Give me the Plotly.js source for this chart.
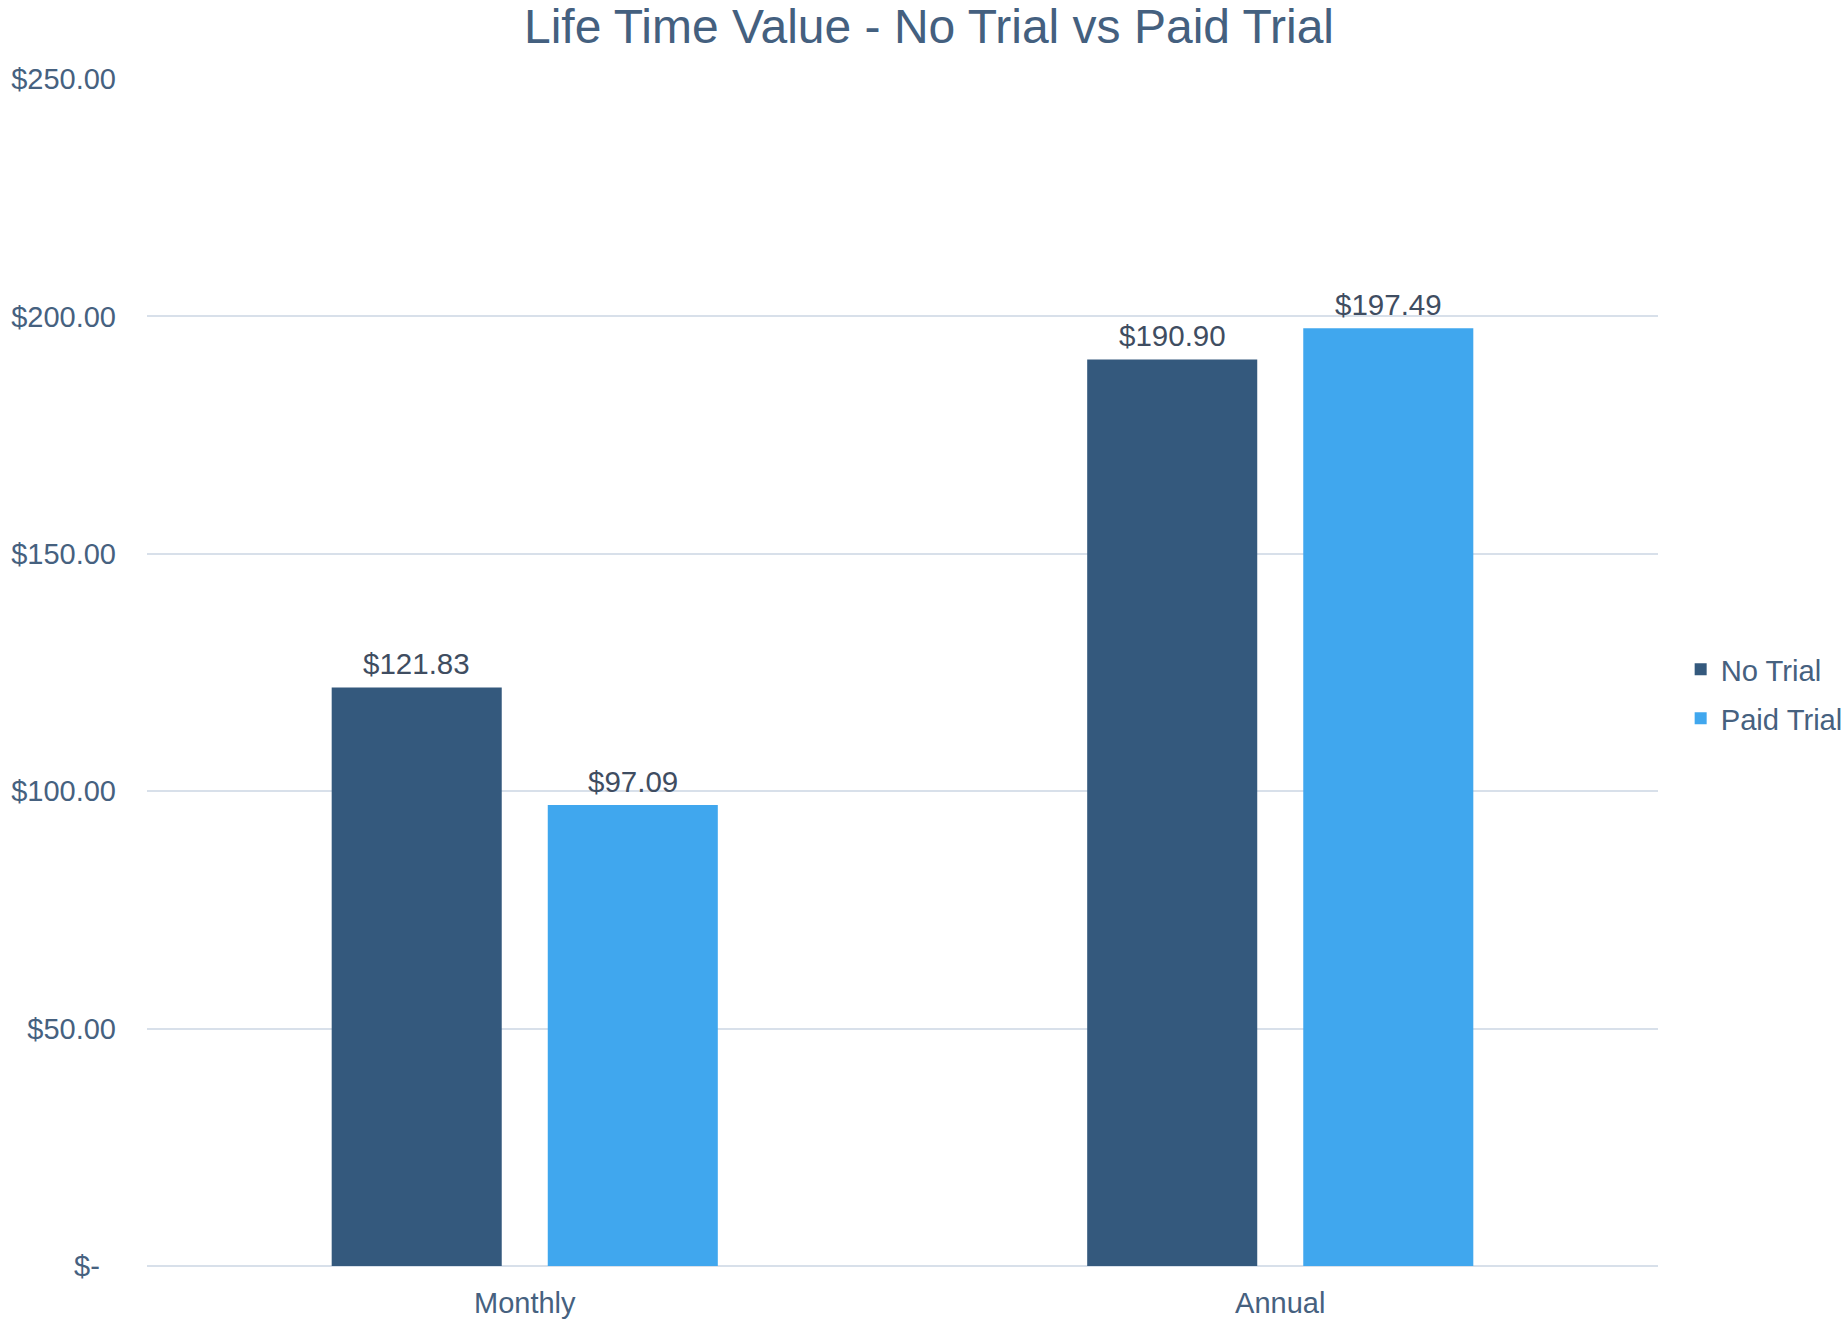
<!DOCTYPE html>
<html>
<head>
<meta charset="utf-8">
<script src="https://cdn.plot.ly/plotly-3.0.1.min.js"></script>
<style>
  html, body { margin: 0; padding: 0; background: #ffffff; }
  #chart { width: 1847px; height: 1320px; }
</style>
</head>
<body>
<div id="chart"></div>
<script>
// Plans and lifetime value per subscriber (USD)
const plans = ['Monthly', 'Annual'];
const noTrial = [121.83, 190.90];
const paidTrial = [97.09, 197.49];
const seriesNames = ['No Trial', 'Paid Trial'];

// Y axis ticks in accounting style
const yTickVals = [0, 50, 100, 150, 200, 250];
const yTickText = ['$-\u2007', '$50.00', '$100.00', '$150.00', '$200.00', '$250.00'];

const FONT = 'Arial, "Liberation Sans", Helvetica, sans-serif';
const colors = ['#34597d', '#40a7ee'];
const axisText = '#46617f';
const labelText = '#3f4d61';
const gridColor = '#d8e0ea';

const W = 1847, H = 1320;
const margin = { l: 147, r: 189, t: 79, b: 54, pad: 0, autoexpand: false };
const bargap = 0.428;
const bargroupgap = 0.213;

const seriesValues = [noTrial, paidTrial];

const traces = seriesValues.map((vals, i) => ({
  type: 'bar',
  name: seriesNames[i],
  legendgroup: 'g' + i,
  x: plans,
  y: vals,
  marker: { color: colors[i], line: { width: 0 } },
  hoverinfo: 'x+y+name'
}));

// Value labels above each bar, placed over the grouped bar positions
const plotW = W - margin.l - margin.r;
const catW = plotW / plans.length;
const slotOffset = (1 - bargap) / 4 * catW;
const annotations = [];
seriesValues.forEach((vals, i) => {
  vals.forEach((v, j) => {
    annotations.push({
      x: plans[j],
      y: v,
      xref: 'x',
      yref: 'y',
      text: '$' + v.toFixed(2),
      showarrow: false,
      xanchor: 'center',
      yanchor: 'middle',
      xshift: (i === 0 ? -1 : 1) * slotOffset,
      yshift: 24,
      font: { family: FONT, size: 29.5, color: labelText }
    });
  });
});

const layout = {
  width: W,
  height: H,
  margin: margin,
  paper_bgcolor: '#ffffff',
  plot_bgcolor: '#ffffff',
  barmode: 'group',
  bargap: bargap,
  bargroupgap: bargroupgap,
  font: { family: FONT, size: 29, color: axisText },
  title: {
    text: 'Life Time Value - No Trial vs Paid Trial',
    font: { family: FONT, size: 48, color: '#44607f' },
    x: 929 / W,
    xref: 'container',
    xanchor: 'center',
    y: 1 - 26 / H,
    yref: 'container',
    yanchor: 'middle'
  },
  xaxis: {
    type: 'category',
    showgrid: false,
    zeroline: false,
    showline: false,
    ticks: '',
    ticklabelstandoff: 17,
    tickfont: { family: FONT, size: 29, color: axisText },
    fixedrange: true
  },
  yaxis: {
    range: [0, 250],
    tickvals: yTickVals,
    ticktext: yTickText,
    showgrid: true,
    gridcolor: gridColor,
    gridwidth: 2,
    zeroline: true,
    zerolinecolor: gridColor,
    zerolinewidth: 2,
    showline: false,
    ticks: '',
    ticklabelstandoff: 30,
    tickfont: { family: FONT, size: 29, color: axisText },
    fixedrange: true
  },
  showlegend: true,
  legend: {
    x: 1.015,
    xanchor: 'left',
    y: 0.482,
    yanchor: 'middle',
    tracegroupgap: 8,
    font: { family: FONT, size: 29.2, color: axisText },
    bgcolor: 'rgba(0,0,0,0)'
  },
  annotations: annotations
};

Plotly.newPlot('chart', traces, layout, { displayModeBar: false, staticPlot: true });
</script>
</body>
</html>
